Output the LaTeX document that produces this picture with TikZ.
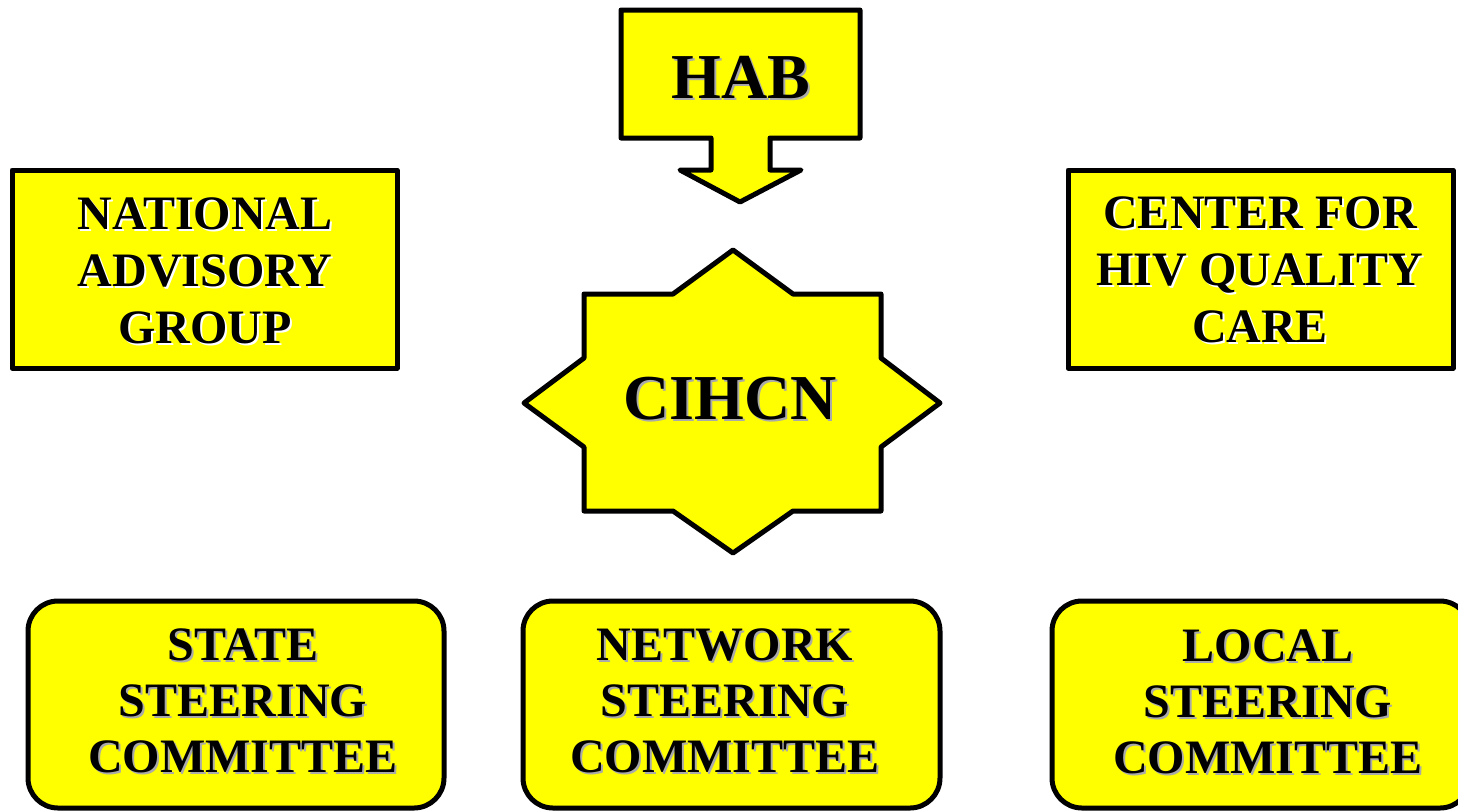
\documentclass[tikz,border=0pt]{standalone}
\usepackage{fontspec}
\setmainfont{Liberation Serif}
\definecolor{boxyellow}{RGB}{255,255,0}
\definecolor{shadowgray}{RGB}{170,170,170}
\tikzset{
  shapeline/.style={draw=black, line width=2.5pt, fill=boxyellow, line join=round},
  lbl/.style={inner sep=0pt, align=center, font=\bfseries\fontsize{24}{28.5}\selectfont},
  botlbl/.style={inner sep=0pt, align=center, font=\bfseries\fontsize{24}{28}\selectfont},
  biglbl/.style={inner sep=0pt, font=\bfseries\fontsize{32}{36}\selectfont},
  shg/.style={text=shadowgray},
  shw/.style={text=white},
}
\begin{document}
\begin{tikzpicture}[x=0.5pt,y=-0.5pt]
\useasboundingbox (0,0) rectangle (1458,811);
\clip (0,0) rectangle (1458,811);
% HAB arrow
\draw[shapeline] (621,10) -- (860,10) -- (860,138) -- (770,138) -- (770,170) -- (801,170)
  -- (740,202) -- (680,170) -- (711,170) -- (711,138) -- (621,138) -- cycle;
% side boxes
\draw[shapeline] (12,170) rectangle (397,368);
\draw[shapeline] (1068,170) rectangle (1453,368);
% star
\draw[shapeline] (584,294) -- (673,294) -- (733,250) -- (793,294) -- (881,294) -- (881,358)
  -- (940,403) -- (881,447) -- (881,511) -- (793,511) -- (733,553) -- (673,511) -- (584,511)
  -- (584,447) -- (524,403) -- (584,358) -- cycle;
% bottom rounded boxes
\draw[shapeline, rounded corners=15pt] (28,601) rectangle (444,808);
\draw[shapeline, rounded corners=15pt] (523,601) rectangle (940,808);
\draw[shapeline, rounded corners=15pt] (1052,601) rectangle (1470,808);
% texts
\node[biglbl, shg, anchor=base] (habs) at (743,100) {HAB};
\node[biglbl, anchor=base] (hab) at (741,98) {HAB};
\node[biglbl, shg, anchor=base] (cihcns) at (732,421) {CIHCN};
\node[biglbl, anchor=base] (cihcn) at (730,419) {CIHCN};
\node[lbl, shw] (nags) at (207,273) {NATIONAL\\ADVISORY\\GROUP};
\node[lbl] (nag) at (205,271) {NATIONAL\\ADVISORY\\GROUP};
\node[lbl, shw] (chqcs) at (1262,272) {CENTER FOR\\HIV QUALITY\\CARE};
\node[lbl] (chqc) at (1260,270) {CENTER FOR\\HIV QUALITY\\CARE};
\node[botlbl, shg] (sscs) at (245,703) {STATE\\STEERING\\COMMITTEE};
\node[botlbl] (ssc) at (243,701) {STATE\\STEERING\\COMMITTEE};
\node[botlbl, shg] (nscs) at (727,703) {NETWORK\\STEERING\\COMMITTEE};
\node[botlbl] (nsc) at (725,701) {NETWORK\\STEERING\\COMMITTEE};
\node[botlbl, shg] (lscs) at (1270,704) {LOCAL\\STEERING\\COMMITTEE};
\node[botlbl] (lsc) at (1268,702) {LOCAL\\STEERING\\COMMITTEE};
\end{tikzpicture}
\end{document}
